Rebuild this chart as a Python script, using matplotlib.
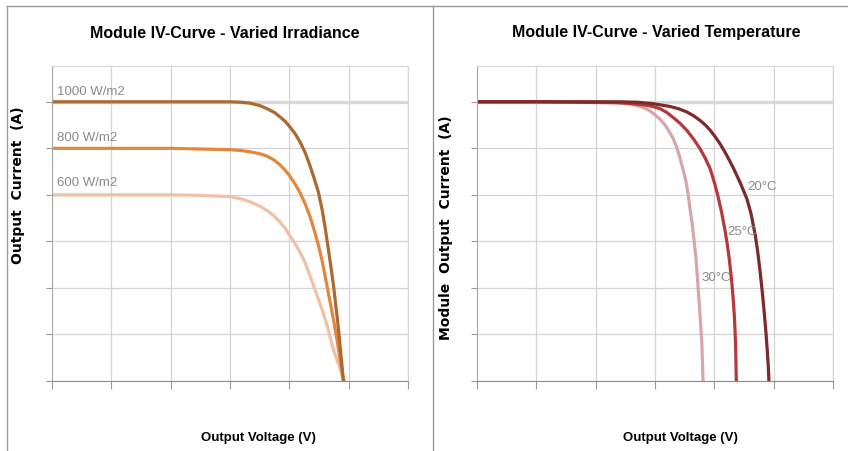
import matplotlib
matplotlib.use("Agg")
from matplotlib import pyplot as plt
from matplotlib.lines import Line2D

# --- data (voltage / current in grid units) ---
v_1000 = [0, 1.0, 2.0, 3.02, 3.2, 3.34, 3.5, 3.63, 3.75, 3.84, 3.93, 4.01, 4.1, 4.18, 4.27,
          4.35, 4.42, 4.49, 4.55, 4.60, 4.65, 4.70, 4.75, 4.79, 4.83, 4.86, 4.89, 4.91]
i_1000 = [6.0, 6.0, 6.0, 6.0, 5.99, 5.97, 5.92, 5.85, 5.77, 5.68, 5.58, 5.46, 5.31, 5.14, 4.90,
          4.62, 4.35, 4.06, 3.70, 3.33, 2.90, 2.47, 2.00, 1.55, 1.10, 0.69, 0.30, 0.0]

v_800 = [0, 1.0, 2.0, 3.02, 3.2, 3.34, 3.5, 3.63, 3.74, 3.84, 3.93, 4.01, 4.1, 4.18, 4.27,
         4.35, 4.42, 4.49, 4.55, 4.60, 4.66, 4.72, 4.77, 4.81, 4.85, 4.89, 4.92]
i_800 = [5.0, 5.0, 5.0, 4.97, 4.95, 4.925, 4.885, 4.83, 4.75, 4.65, 4.53, 4.40, 4.23, 4.05, 3.80,
         3.53, 3.24, 2.92, 2.60, 2.28, 1.88, 1.48, 1.14, 0.84, 0.50, 0.19, 0.0]

v_600 = [0, 1.0, 2.0, 2.5, 3.02, 3.2, 3.34, 3.5, 3.63, 3.74, 3.84, 3.93, 4.01, 4.1, 4.18, 4.27,
         4.35, 4.42, 4.49, 4.57, 4.64, 4.69, 4.74, 4.80, 4.86, 4.92]
i_600 = [4.0, 4.0, 4.0, 3.99, 3.96, 3.91, 3.85, 3.76, 3.66, 3.55, 3.42, 3.28, 3.12, 2.95, 2.77, 2.53,
         2.26, 2.01, 1.76, 1.47, 1.18, 0.93, 0.69, 0.46, 0.26, 0.0]

v_20 = [0, 1.0, 2.41, 2.7, 2.97, 3.25, 3.4, 3.54, 3.65, 3.76, 3.85, 3.93, 4.02, 4.10, 4.21,
        4.32, 4.44, 4.55, 4.62, 4.69, 4.73, 4.77, 4.81, 4.84, 4.87, 4.89, 4.91, 4.92]
i_20 = [6.0, 6.0, 6.0, 5.99, 5.96, 5.90, 5.85, 5.78, 5.70, 5.60, 5.50, 5.39, 5.24, 5.09, 4.85,
        4.58, 4.25, 3.91, 3.59, 3.13, 2.79, 2.37, 1.89, 1.49, 1.04, 0.70, 0.30, 0.0]

v_25 = [0, 1.0, 2.41, 2.62, 2.83, 2.96, 3.09, 3.2, 3.31, 3.43, 3.54, 3.65, 3.76, 3.85, 3.93,
        4.00, 4.06, 4.12, 4.18, 4.22, 4.25, 4.28, 4.30, 4.32, 4.34, 4.35, 4.36, 4.365, 4.37]
i_25 = [6.0, 6.0, 5.98, 5.96, 5.93, 5.90, 5.85, 5.77, 5.66, 5.53, 5.38, 5.20, 4.99, 4.78, 4.56,
        4.27, 3.98, 3.64, 3.24, 2.92, 2.64, 2.30, 2.04, 1.73, 1.35, 1.05, 0.70, 0.35, 0.0]

v_30 = [0, 1.0, 2.07, 2.35, 2.58, 2.72, 2.83, 2.92, 3.00, 3.09, 3.17, 3.24, 3.31, 3.37, 3.42,
        3.47, 3.52, 3.56, 3.59, 3.63, 3.66, 3.69, 3.71, 3.73, 3.75, 3.77, 3.79, 3.80, 3.81]
i_30 = [6.0, 6.0, 6.0, 5.98, 5.95, 5.91, 5.86, 5.80, 5.72, 5.62, 5.50, 5.36, 5.20, 5.01, 4.80,
        4.56, 4.30, 4.00, 3.70, 3.35, 3.00, 2.65, 2.30, 1.95, 1.60, 1.20, 0.80, 0.40, 0.0]

irr_labels = ["1000 W/m2", "800 W/m2", "600 W/m2"]
temp_labels = ["20°C", "25°C", "30°C"]

fig = plt.figure(figsize=(8.48, 4.52), dpi=100)

ax1 = fig.add_axes([0.0613, 0.1549, 0.4198, 0.6969])
ax2 = fig.add_axes([0.5625, 0.1549, 0.4198, 0.6969])

for ax in (ax1, ax2):
    ax.set_xlim(0, 6)
    ax.set_ylim(0, 6.77)
    ax.set_xticks(range(7))
    ax.set_yticks(range(7))
    ax.set_xticklabels([])
    ax.set_yticklabels([])
    ax.grid(color="#d4d4d4", lw=0.9)
    ax.set_axisbelow(True)
    ax.axhline(6, color="#d9d9d9", lw=2.5, zorder=1)
    for s in ("top", "right"):
        ax.spines[s].set_color("#d4d4d4")
    ax.spines["left"].set_color("#a8a8a8")
    ax.spines["bottom"].set_color("#8c8c8c")
    ax.tick_params(axis="x", length=6, color="#999999")
    ax.tick_params(axis="y", length=4, color="#999999")

lw = 2.3
ax1.plot(v_600, i_600, color="#f2c0a6", lw=lw, solid_capstyle="round", solid_joinstyle="round")
ax1.plot(v_800, i_800, color="#e2873c", lw=lw, solid_capstyle="round", solid_joinstyle="round")
ax1.plot(v_1000, i_1000, color="#ad6a30", lw=lw, solid_capstyle="round", solid_joinstyle="round")

lab_font = ["Liberation Sans", "DejaVu Sans"]
for txt, y in zip(irr_labels, [6.24, 5.25, 4.28]):
    ax1.text(0.08, y, txt, color="#8a8a8a", fontsize=9.5, va="center", family=lab_font)

ax2.plot(v_30, i_30, color="#d9a6a8", lw=lw, solid_capstyle="round", solid_joinstyle="round")
ax2.plot(v_25, i_25, color="#b7383b", lw=lw, solid_capstyle="round", solid_joinstyle="round")
ax2.plot(v_20, i_20, color="#7c2a2a", lw=lw, solid_capstyle="round", solid_joinstyle="round")

for txt, x, y in zip(temp_labels, [4.55, 4.22, 3.79], [4.19, 3.23, 2.24]):
    ax2.text(x, y, txt, color="#8a8a8a", fontsize=9.5, va="center", family=lab_font)

fig.text(225 / 848, 1 - 33 / 452, "Module IV-Curve - Varied Irradiance",
         ha="center", va="center", fontsize=11.5, weight="bold", family=lab_font)
fig.text(656 / 848, 1 - 33 / 452, "Module IV-Curve - Varied Temperature",
         ha="center", va="center", fontsize=11.5, weight="bold", family=lab_font)

fig.text(258 / 848, 1 - 438 / 452, "Output Voltage (V)", ha="center", va="center",
         fontsize=9.5, weight="bold", family=lab_font)
fig.text(680 / 848, 1 - 438 / 452, "Output Voltage (V)", ha="center", va="center",
         fontsize=9.5, weight="bold", family=lab_font)

fig.text(18 / 848, 1 - 185 / 452, "Output  Current  (A)", rotation=90, ha="center",
         va="center", fontsize=10, weight="bold")
fig.text(446 / 848, 1 - 228 / 452, "Module  Output  Current  (A)", rotation=90,
         ha="center", va="center", fontsize=10, weight="bold")

# panel frame lines
border = "#9a9a9a"
fig.add_artist(Line2D([7 / 848, 1], [1 - 7 / 452] * 2, color=border, lw=1))
fig.add_artist(Line2D([7 / 848] * 2, [0, 1 - 7 / 452], color=border, lw=1))
fig.add_artist(Line2D([433 / 848] * 2, [0, 1 - 7 / 452], color=border, lw=1))

fig.savefig("out.png", dpi=100)
